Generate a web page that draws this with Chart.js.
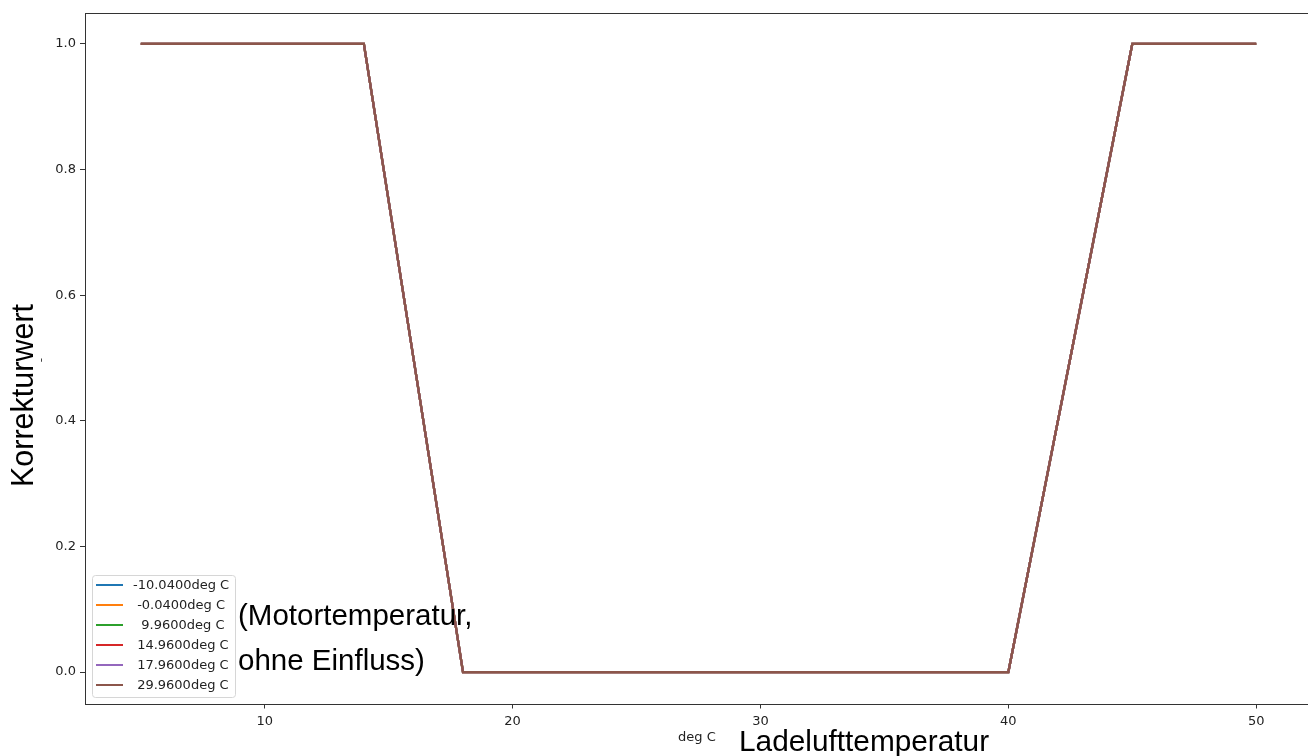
<!DOCTYPE html>
<html>
<head>
<meta charset="utf-8">
<script src="https://cdn.jsdelivr.net/npm/chart.js@4"></script>
<style>
  html, body { margin: 0; padding: 0; overflow: hidden; background: #fff; }
  #wrap { width: 1320px; height: 756px; }
</style>
</head>
<body>
<div id="wrap"><canvas id="c" width="1320" height="756"></canvas></div>
<script>
// Ladelufttemperatur (deg C) and the resulting correction value
const ladeluft = [5, 14, 18, 40, 45, 50];
const korrekturwert = [1, 1, 0, 0, 1, 1];

// One curve per engine temperature; the engine temperature has no influence
const motorLabels = ['-10.0400deg C', ' -0.0400deg C', '  9.9600deg C', ' 14.9600deg C', ' 17.9600deg C', ' 29.9600deg C'];
const motorCurves = [korrekturwert, korrekturwert, korrekturwert, korrekturwert, korrekturwert, korrekturwert];
const seriesColors = ['#1f77b4', '#ff7f0e', '#2ca02c', '#d62728', '#9467bd', '#8c564b'];

const xTicks = [10, 20, 30, 40, 50];
const yTicks = [0, 0.2, 0.4, 0.6, 0.8, 1.0];

const smallFont = '"DejaVu Sans", sans-serif';
const bigFont = '"Liberation Sans", Arial, Helvetica, sans-serif';

const datasets = motorCurves.map((ys, i) => ({
  label: motorLabels[i],
  data: ladeluft.map((x, j) => ({ x: x, y: ys[j] })),
  borderColor: seriesColors[i],
  backgroundColor: seriesColors[i],
  borderWidth: 2.3,
  pointRadius: 0,
  tension: 0,
  fill: false,
  order: motorCurves.length - i
}));

const decorations = {
  id: 'decorations',
  afterDraw(chart) {
    const ctx = chart.ctx;
    const a = chart.chartArea;
    ctx.save();

    // axes frame
    ctx.strokeStyle = '#333';
    ctx.lineWidth = 1;
    ctx.strokeRect(Math.round(a.left) + 0.5, Math.round(a.top) + 0.5,
                   Math.round(a.right - a.left), Math.round(a.bottom - a.top));

    // legend (lower left, inside the axes)
    const lx = 92.5, ly = 575.5, lw = 143, lh = 122;
    ctx.beginPath();
    ctx.roundRect(lx, ly, lw, lh, 3);
    ctx.fillStyle = 'rgba(255,255,255,0.8)';
    ctx.fill();
    ctx.strokeStyle = '#d6d6d6';
    ctx.stroke();
    ctx.font = '13px ' + smallFont;
    ctx.textBaseline = 'middle';
    ctx.textAlign = 'left';
    chart.data.datasets.forEach((ds, i) => {
      const cy = 585 + i * 20;
      ctx.strokeStyle = ds.borderColor;
      ctx.lineWidth = 2;
      ctx.beginPath();
      ctx.moveTo(96, cy);
      ctx.lineTo(123, cy);
      ctx.stroke();
      ctx.fillStyle = '#222';
      ctx.fillText(ds.label, 133, cy + 1);
    });

    // annotation text
    ctx.fillStyle = '#000';
    ctx.font = '29.5px ' + bigFont;
    ctx.textBaseline = 'alphabetic';
    ctx.fillText('(Motortemperatur,', 238, 625);
    ctx.fillText('ohne Einfluss)', 238, 670);

    // x axis title and unit
    ctx.font = '29.8px ' + bigFont;
    ctx.fillText('Ladelufttemperatur', 739, 751);
    ctx.font = '13px ' + smallFont;
    ctx.fillStyle = '#222';
    ctx.fillText('deg C', 678, 741);

    // y axis title and unit
    ctx.save();
    ctx.translate(33, 487);
    ctx.rotate(-Math.PI / 2);
    ctx.font = '30.5px ' + bigFont;
    ctx.fillStyle = '#000';
    ctx.fillText('Korrekturwert', 0, 0);
    ctx.restore();

    ctx.save();
    ctx.translate(42, 360);
    ctx.rotate(-Math.PI / 2);
    ctx.font = '12px ' + smallFont;
    ctx.fillStyle = '#444';
    ctx.textAlign = 'center';
    ctx.textBaseline = 'middle';
    ctx.fillText('-', 0, 0);
    ctx.restore();

    ctx.restore();
  }
};

new Chart(document.getElementById('c'), {
  type: 'line',
  data: { datasets: datasets },
  options: {
    responsive: false,
    animation: false,
    devicePixelRatio: 1,
    layout: { padding: { left: 0, right: 8, top: 12.5, bottom: 0 } },
    plugins: {
      legend: { display: false },
      tooltip: { enabled: false }
    },
    scales: {
      x: {
        type: 'linear',
        min: 2.75,
        max: 52.25,
        afterBuildTicks: s => { s.ticks = xTicks.map(v => ({ value: v })); },
        afterFit: s => { s.height = 52.5; },
        border: { display: false },
        grid: { drawOnChartArea: false, drawTicks: true, tickLength: 5, color: '#333', tickColor: '#333', tickWidth: 1 },
        ticks: {
          autoSkip: false, maxRotation: 0, padding: 5, color: '#222',
          font: { family: smallFont, size: 13 },
          callback: v => String(v)
        }
      },
      y: {
        type: 'linear',
        min: -0.05,
        max: 1.05,
        afterBuildTicks: s => { s.ticks = yTicks.map(v => ({ value: v })); },
        afterFit: s => { s.width = 85; },
        border: { display: false },
        grid: { drawOnChartArea: false, drawTicks: true, tickLength: 5, color: '#333', tickColor: '#333', tickWidth: 1 },
        ticks: {
          padding: 4, color: '#222',
          font: { family: smallFont, size: 13 },
          callback: v => Number(v).toFixed(1)
        }
      }
    }
  },
  plugins: [decorations]
});
</script>
</body>
</html>
